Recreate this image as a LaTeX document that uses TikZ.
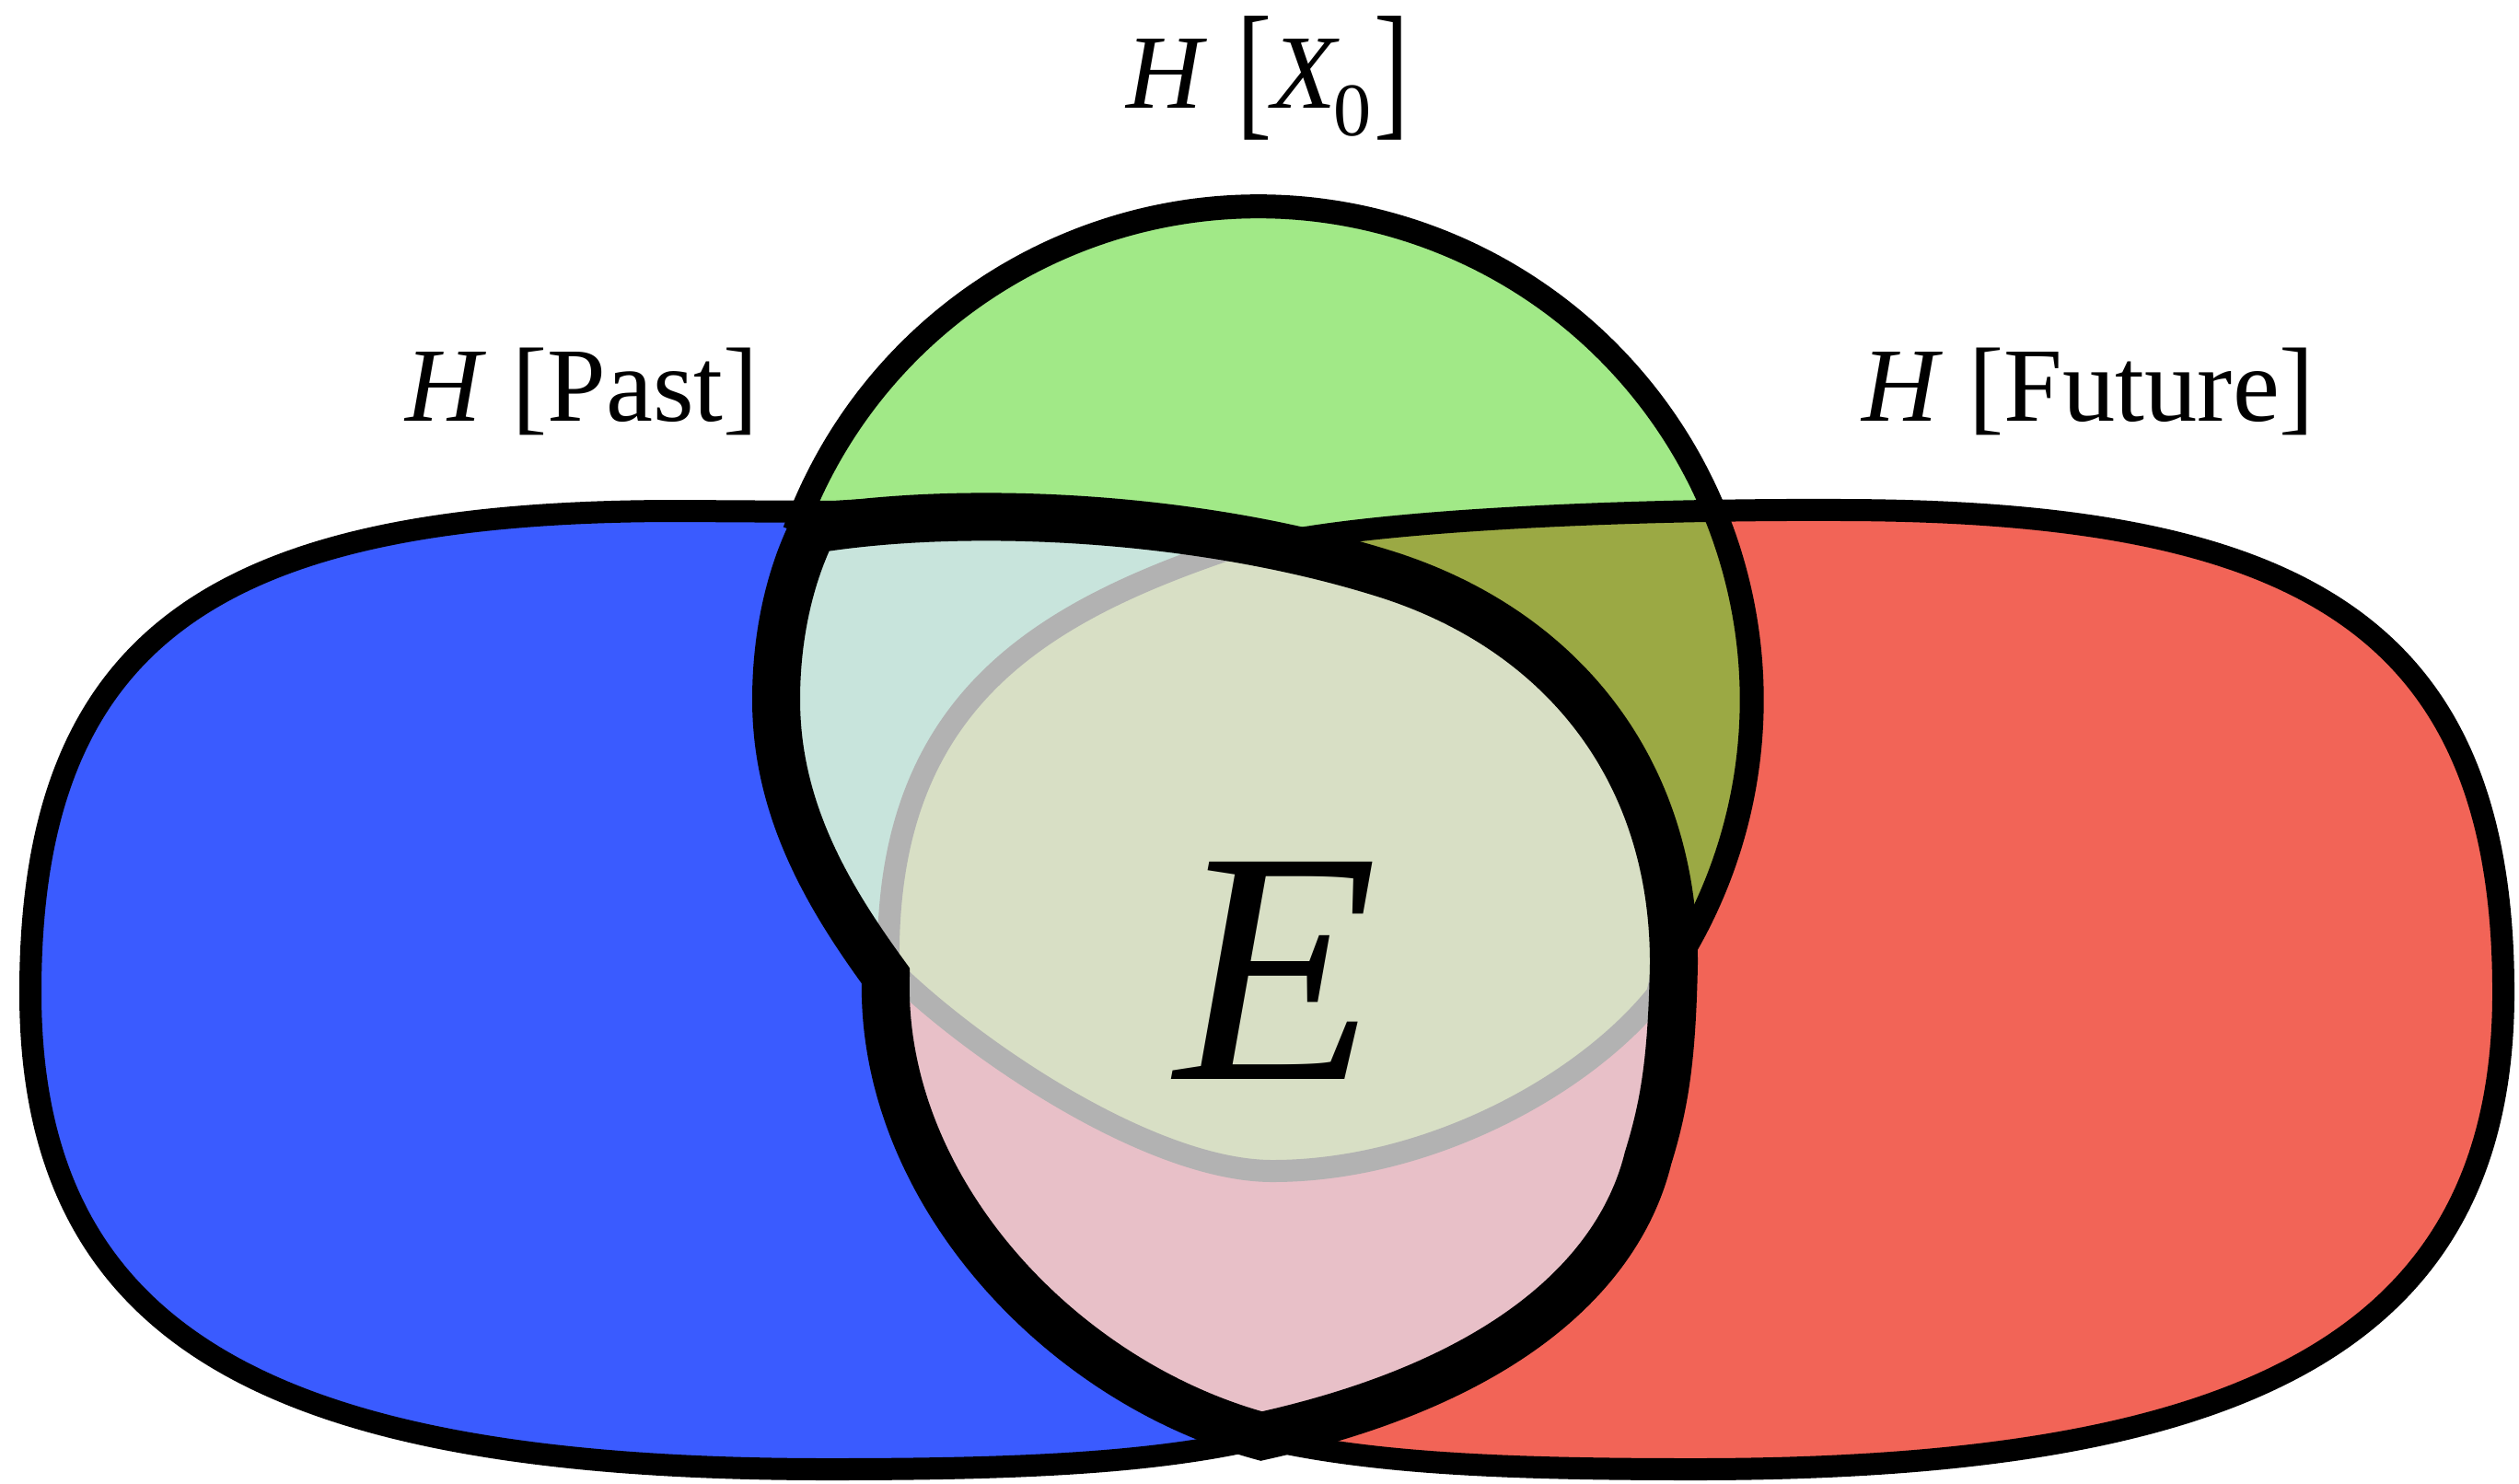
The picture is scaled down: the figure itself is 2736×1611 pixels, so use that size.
\documentclass[tikz,border=0pt]{standalone}
\usepackage{fontspec}
\setmainfont{Liberation Serif}
\usepackage{graphicx}
\definecolor{pastblue}{RGB}{58,91,255}
\definecolor{futred}{RGB}{242,100,87}
\definecolor{xgreen}{RGB}{161,233,135}
\definecolor{xolive}{RGB}{155,169,68}
\definecolor{ecyan}{RGB}{200,228,220}
\definecolor{ekhaki}{RGB}{216,223,197}
\definecolor{epink}{RGB}{232,192,200}
\definecolor{egrey}{RGB}{178,178,178}
\def\lenspath{(883,575) .. controls (1050,548) and (1300,560) .. (1500,622) .. controls (1690,680) and (1818,830) .. (1818,1046) .. controls (1816,1150) and (1808,1200) .. (1790,1258) .. controls (1760,1380) and (1640,1500) .. (1370,1560) .. controls (1150,1500) and (955,1290) .. (962,1060) .. controls (900,975) and (843,880) .. (843,760) .. controls (843,690) and (858,625) .. cycle}
\def\pastpath{(736,555) -- (905,556) .. controls (1060,545) and (1300,560) .. (1500,622) .. controls (1690,680) and (1818,830) .. (1818,1046) .. controls (1816,1150) and (1808,1200) .. (1790,1258) .. controls (1760,1380) and (1640,1500) .. (1370,1562) .. controls (1250,1590) and (1100,1596) .. (900,1596) .. controls (300,1596) and (33,1456) .. (33,1078) .. controls (33,690) and (236,555) .. cycle}
\def\futurepath{(2000,554) .. controls (1800,553) and (1550,562) .. (1412,585) .. controls (1250,570) and (1050,548) .. (883,575) .. controls (858,625) and (843,690) .. (843,760) .. controls (843,880) and (900,975) .. (962,1060) .. controls (955,1290) and (1150,1500) .. (1370,1562) .. controls (1490,1590) and (1640,1596) .. (1840,1596) .. controls (2440,1596) and (2719,1456) .. (2719,1078) .. controls (2719,680) and (2500,555) .. cycle}
\def\xzeropath{(863,577) arc[start angle=-160, end angle=30.25, radius=536] -- (1818,1046) .. controls (1818,830) and (1690,680) .. (1500,622) .. controls (1300,560) and (1050,548) .. (883,575) -- cycle}
\def\khakipath{(1330,598) .. controls (1120,670) and (960,770) .. (965,1050) .. controls (1055,1140) and (1250,1272) .. (1382,1272) .. controls (1550,1272) and (1720,1180) .. (1800,1080) -- (1818,1000) .. controls (1812,830) and (1690,680) .. (1500,622) .. controls (1420,598) and (1380,592) .. cycle}
\tikzset{
  outline/.style={draw=black, line width=1.2mm},
  circline/.style={draw=black, line width=1.3mm},
  lensline/.style={draw=black, line width=2.6mm, line join=miter, miter limit=10},
  greyline/.style={draw=egrey, line width=1.2mm},
  lbl/.style={font=\fontsize{16.3}{19}\selectfont, inner sep=0pt, anchor=base},
}
\begin{document}
\begin{tikzpicture}[x=0.05mm, y=-0.05mm]
\useasboundingbox (0,0) rectangle (2736,1611);
% blob fills
\fill[pastblue] \pastpath;
\fill[futred] \futurepath;
% X0 fill
\fill[xgreen] \xzeropath;
\begin{scope}
  \clip \xzeropath;
  \fill[xolive] \futurepath;
\end{scope}
% outlines
\path[outline] \pastpath;
\path[outline] \futurepath;
\draw[circline] (863,577) arc[start angle=-160, end angle=30.25, radius=536];
% lens interior
\begin{scope}
  \clip \lenspath;
  \fill[epink] \lenspath;
  \fill[ecyan] (1330,598) .. controls (1120,670) and (960,770) .. (965,1050) -- (700,1150) -- (700,450) -- (1400,450) -- cycle;
  \path[fill=ekhaki, greyline] \khakipath;
\end{scope}
\path[lensline] \lenspath;
% labels
\node[lbl] (xzero) at (1377,118) {\textit{H}\hspace{0.28em}\raisebox{-0.105em}{\scalebox{1}[1.42]{[}}\textit{X}\kern-0.06em\raisebox{-0.26em}{\fontsize{11.7}{12}\selectfont 0}\kern0.03em\raisebox{-0.105em}{\scalebox{1}[1.42]{]}}};
\node[lbl] (past) at (632,458) {\textit{H} [Past]};
\node[lbl] (future) at (2268,458) {\textit{H} [Future]};
\node[lbl, font=\fontsize{51.3}{52}\selectfont\itshape] (E) at (1387,1172) {E};
\end{tikzpicture}
\end{document}
